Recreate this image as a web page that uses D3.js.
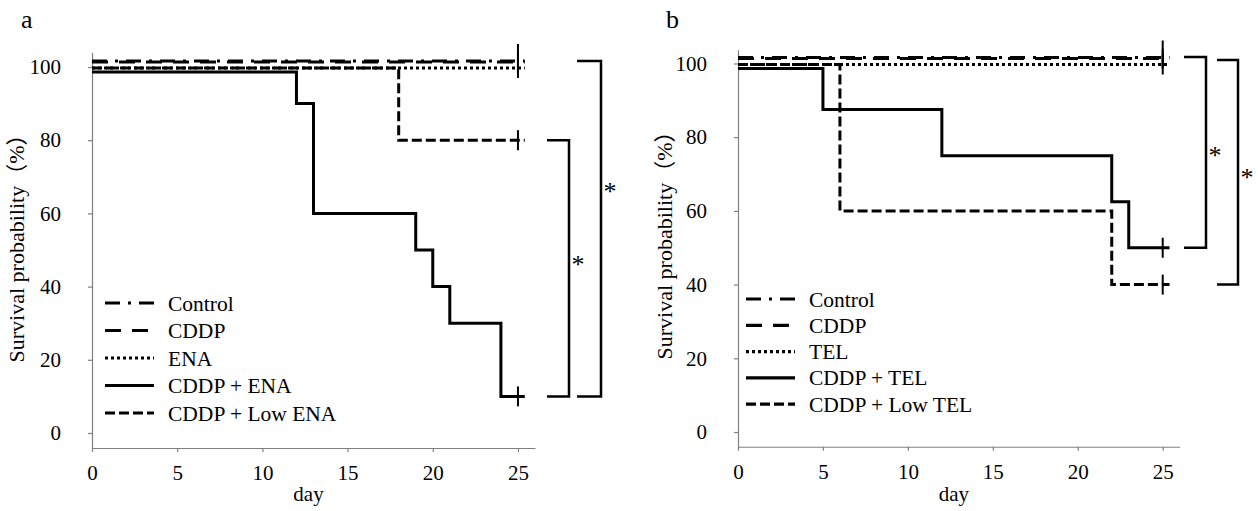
<!DOCTYPE html>
<html>
<head>
<meta charset="utf-8">
<script src="https://cdn.jsdelivr.net/npm/d3@7"></script>
<style>
  body { margin: 0; background: #fff; }
  .axis path, .axis line { stroke: #808080; stroke-width: 1.2; }
</style>
</head>
<body>
<svg id="chart" width="1258" height="511"></svg>
<script>
// ---- data ----
var dayTicks = [0, 5, 10, 15, 20, 25];
var pctTicks = [0, 20, 40, 60, 80, 100];

// panel a : step times (day) and survival (%)
var aNames = ["Control", "CDDP", "ENA", "CDDP + ENA", "CDDP + Low ENA"];
var aControlT = [0, 25.4],                        aControlS = [100, 100];
var aCddpT = [0, 25.4],                           aCddpS = [100, 100];
var aEnaT = [0, 25.4],                            aEnaS = [100, 100];
var aComboT = [0, 12, 13, 19, 20, 21, 24, 25.4],  aComboS = [100, 90, 60, 50, 40, 30, 10, 10];
var aLowT = [0, 18, 25.4],                        aLowS = [100, 80, 80];

// panel b
var bNames = ["Control", "CDDP", "TEL", "CDDP + TEL", "CDDP + Low TEL"];
var bControlT = [0, 25.4],                        bControlS = [100, 100];
var bCddpT = [0, 25.4],                           bCddpS = [100, 100];
var bTelT = [0, 25.4],                            bTelS = [100, 100];
var bComboT = [0, 5, 12, 22, 23, 25.4],           bComboS = [100, 87.5, 75, 62.5, 50, 50];
var bLowT = [0, 6, 22, 25.4],                     bLowS = [100, 60, 40, 40];

var censorDay = 25;

// significance brackets: top / bottom survival (%) joined
var aBracketTop = [80, 100], aBracketBottom = [10, 10];
var bBracketTop = [100, 100], bBracketBottom = [50, 40];

// ---- styles ----
var serif = "'Liberation Serif', 'Times New Roman', 'DejaVu Serif', serif";
var dashes = ["15,8,3,8", "16,11", "3,3", null, "10,4"];
var lift = [-6, -5, 1, 5, 1];       // shift of the 100% level so overlapping lines stay visible
var censorHalf = [17, 10, 10, 10, 10];

var svg = d3.select("#chart");

function drawPanel(p) {
  var x = d3.scaleLinear().domain([0, 26]).range([p.x0, p.x1]);
  var y0 = d3.scaleLinear().domain([0, 100]).range([p.yZero, p.yHundred]);
  var y = d3.scaleLinear().domain([p.yMin, p.yMax]).range([y0(p.yMin), y0(p.yMax)]);
  var g = svg.append("g");

  // axes
  var ya = g.append("g").attr("class", "axis")
    .attr("transform", "translate(" + p.x0 + ",0)")
    .call(d3.axisLeft(y).tickValues(pctTicks).tickSize(4).tickSizeOuter(0).tickPadding(27));
  var xa = g.append("g").attr("class", "axis")
    .attr("transform", "translate(0," + y(p.yMin) + ")")
    .call(d3.axisBottom(x).tickValues(dayTicks).tickSize(4).tickSizeOuter(0).tickPadding(13));
  [ya, xa].forEach(function(a) {
    a.attr("font-family", null).attr("font-size", null);
    a.selectAll("text").style("font-family", serif).style("font-size", "21px").style("fill", "#000");
  });

  g.append("text").attr("x", (p.x0 + p.x1) / 2 - 5).attr("y", 501)
    .attr("text-anchor", "middle")
    .style("font-family", serif).style("font-size", "21px").text("day");
  g.append("text")
    .attr("transform", "translate(" + p.yLabelX + "," + p.yLabelY + ") rotate(-90)")
    .attr("text-anchor", "middle")
    .style("font-family", serif + ", 'Noto Sans CJK JP'").style("font-size", "22px")
    .text("Survival probability（%）");
  g.append("text").attr("x", p.letterX).attr("y", 28)
    .style("font-family", serif).style("font-size", "26px").text(p.letter);

  // survival curves
  p.series.forEach(function(s, i) {
    var pts = s.t.map(function(t, j) { return [t, s.s[j]]; });
    var yy = function(v) { return y(v) + (v === 100 ? lift[i] : 0); };
    var line = d3.line()
      .x(function(d) { return x(d[0]); })
      .y(function(d) { return yy(d[1]); })
      .curve(d3.curveStepAfter);
    g.append("path").datum(pts)
      .attr("d", line)
      .attr("fill", "none").attr("stroke", "#000").attr("stroke-width", 3)
      .attr("stroke-dasharray", dashes[i]);
    var last = s.s[s.s.length - 1];
    g.append("line")
      .attr("x1", x(censorDay)).attr("x2", x(censorDay))
      .attr("y1", yy(last) - censorHalf[i]).attr("y2", yy(last) + 10)
      .attr("stroke", "#000").attr("stroke-width", 2);
  });

  // legend
  var leg = g.append("g");
  p.names.forEach(function(n, i) {
    var ly = p.legY + i * p.legStep;
    leg.append("line").attr("x1", p.legX).attr("x2", p.legX + 49)
      .attr("y1", ly).attr("y2", ly)
      .attr("stroke", "#000").attr("stroke-width", 3.2)
      .attr("stroke-dasharray", dashes[i]);
    leg.append("text").attr("x", p.legX + 63).attr("y", ly).attr("dy", "0.35em")
      .style("font-family", serif).style("font-size", "21.5px").text(n);
  });

  // brackets
  p.bracketTop.forEach(function(top, i) {
    var b = p.brackets[i];
    var yt = y(top) + b.topLift, yb = y(p.bracketBottom[i]);
    g.append("path")
      .attr("d", "M" + b.xa + "," + yt + "H" + b.xb + "V" + yb + "H" + b.xa)
      .attr("fill", "none").attr("stroke", "#000").attr("stroke-width", 2.5);
    g.append("text").attr("x", b.xb + 9).attr("y", y(b.star) + 12)
      .attr("text-anchor", "middle")
      .style("font-family", serif).style("font-size", "26px").style("fill", "#000").text("*");
  });
}

drawPanel({
  letter: "a", letterX: 21,
  x0: 92, x1: 535, yZero: 433, yHundred: 67, yMin: -4.1, yMax: 104,
  yLabelX: 24, yLabelY: 243,
  legX: 105, legY: 303, legStep: 27.5,
  names: aNames,
  series: [
    { t: aControlT, s: aControlS }, { t: aCddpT, s: aCddpS }, { t: aEnaT, s: aEnaS },
    { t: aComboT, s: aComboS }, { t: aLowT, s: aLowS }
  ],
  bracketTop: aBracketTop, bracketBottom: aBracketBottom,
  brackets: [
    { xa: 547, xb: 569, topLift: 0, star: 47 },
    { xa: 577, xb: 601, topLift: -6, star: 67 }
  ]
});

drawPanel({
  letter: "b", letterX: 666,
  x0: 738, x1: 1179.7, yZero: 432, yHundred: 63.5, yMin: -4, yMax: 103.7,
  yLabelX: 672, yLabelY: 240,
  legX: 746, legY: 299, legStep: 26.3,
  names: bNames,
  series: [
    { t: bControlT, s: bControlS }, { t: bCddpT, s: bCddpS }, { t: bTelT, s: bTelS },
    { t: bComboT, s: bComboS }, { t: bLowT, s: bLowS }
  ],
  bracketTop: bBracketTop, bracketBottom: bBracketBottom,
  brackets: [
    { xa: 1184, xb: 1206, topLift: -6.5, star: 76 },
    { xa: 1217, xb: 1238, topLift: -3.5, star: 70 }
  ]
});
</script>
</body>
</html>
